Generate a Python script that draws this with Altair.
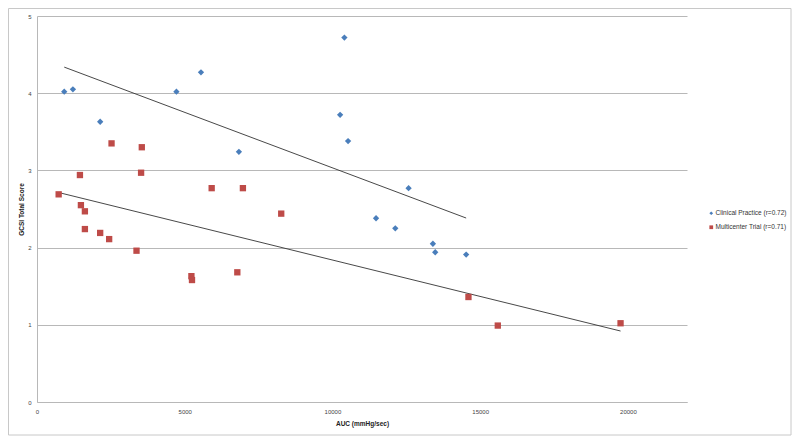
import altair as alt
import pandas as pd

# Clinical Practice (blue diamonds)
cp_auc = [922, 1216, 2138, 4719, 5550, 6834, 10259, 10404, 10529, 11475, 12127, 12577, 13400, 13478, 14525]
cp_gcsi = [4.02, 4.05, 3.63, 4.02, 4.27, 3.24, 3.72, 4.72, 3.38, 2.38, 2.25, 2.77, 2.05, 1.94, 1.91]

# Multicenter Trial (red squares)
mt_auc = [733, 1453, 1486, 1621, 2523, 3547, 3523, 5912, 6969, 8266, 1621, 2138, 2442, 3368, 5226, 5246, 6780, 14603, 15596, 19751]
mt_gcsi = [2.69, 2.94, 2.55, 2.47, 3.35, 3.30, 2.97, 2.77, 2.77, 2.44, 2.24, 2.19, 2.11, 1.96, 1.63, 1.58, 1.68, 1.36, 0.99, 1.02]

series_names = ["Clinical Practice (r=0.72)", "Multicenter Trial (r=0.71)"]
series_colors = ["#4a7ebb", "#be4b48"]
series_shapes = ["diamond", "square"]
x_ticks = [0, 5000, 10000, 15000, 20000]
y_ticks = [0, 1, 2, 3, 4, 5]

df = pd.DataFrame({
    "auc": cp_auc + mt_auc,
    "gcsi": cp_gcsi + mt_gcsi,
    "series": [series_names[0]] * len(cp_auc) + [series_names[1]] * len(mt_auc),
})

FONT = "Liberation Sans"

x_enc = alt.X("auc:Q", title="AUC (mmHg/sec)",
              scale=alt.Scale(domain=[0, 22000], nice=False),
              axis=alt.Axis(values=x_ticks, format="d", grid=False, ticks=False, domainColor="#b8b8b8",
                            labelFontSize=6, labelColor="#444", labelPadding=6,
                            titleFontSize=6.5, titleFontWeight="bold", titleColor="#222",
                            titlePadding=6, labelFont=FONT, titleFont=FONT, labelFlush=False))
y_enc = alt.Y("gcsi:Q", title="GCSI Total Score",
              scale=alt.Scale(domain=[0, 5], nice=False),
              axis=alt.Axis(values=y_ticks, format="d", grid=True, gridColor="#b8b8b8", ticks=False,
                            domainColor="#b8b8b8", labelFontSize=6, labelColor="#444",
                            labelPadding=6, titleFontSize=6.5, titleFontWeight="bold",
                            titleColor="#222", titlePadding=3, labelFont=FONT, titleFont=FONT))

base = alt.Chart(df)

points = base.mark_point(filled=True, opacity=1, size=40).encode(
    x=x_enc,
    y=y_enc,
    color=alt.Color("series:N", scale=alt.Scale(domain=series_names, range=series_colors),
                    legend=alt.Legend(title=None, orient="none", legendX=671, legendY=194,
                                      labelFontSize=6.5, labelColor="#333", labelFont=FONT,
                                      symbolSize=14, rowPadding=7, labelOffset=1,
                                      symbolStrokeWidth=0)),
    shape=alt.Shape("series:N", scale=alt.Scale(domain=series_names, range=series_shapes)),
)

trend = base.transform_regression("auc", "gcsi", groupby=["series"]).mark_line(
    color="#333", strokeWidth=0.9
).encode(x="auc:Q", y="gcsi:Q", detail="series:N")

frame = alt.Chart(pd.DataFrame({"a": [0]})).mark_rect(
    fill="transparent", stroke="#c8c8c8", strokeWidth=1
).encode(x=alt.value(-28.5), x2=alt.value(754), y=alt.value(-7.5), y2=alt.value(419))

chart = alt.layer(frame, trend, points).properties(
    width=650, height=386,
    autosize=alt.AutoSizeParams(type="none"),
    padding={"left": 29, "top": 8, "right": 105, "bottom": 34},
).configure_view(strokeWidth=0)

chart.save("out.html", embed_options={"renderer": "svg", "actions": False})
